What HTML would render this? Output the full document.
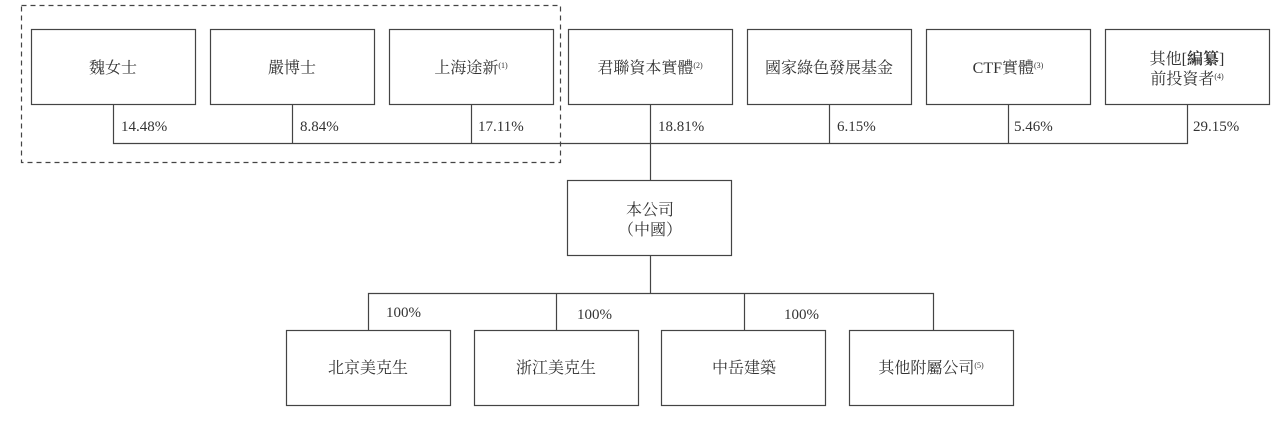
<!DOCTYPE html>
<html><head><meta charset="utf-8"><style>
body{margin:0;background:#fff;}
svg text{font-family:"Liberation Serif","Noto Serif CJK SC","Noto Sans CJK TC",serif;font-size:15px;fill:#333;}
svg text.c{font-size:16px;}
</style></head><body>
<svg width="1280" height="416" viewBox="0 0 1280 416" xmlns="http://www.w3.org/2000/svg">
<rect x="0" y="0" width="1280" height="416" fill="#fff"/>
<g fill="none" stroke="#444" stroke-width="1.2">
<rect x="21.5" y="5.5" width="539" height="157" stroke-dasharray="5,4"/>
<rect x="31.5" y="29.5" width="164" height="75"/>
<rect x="210.5" y="29.5" width="164" height="75"/>
<rect x="389.5" y="29.5" width="164" height="75"/>
<rect x="568.5" y="29.5" width="164" height="75"/>
<rect x="747.5" y="29.5" width="164" height="75"/>
<rect x="926.5" y="29.5" width="164" height="75"/>
<rect x="1105.5" y="29.5" width="164" height="75"/>
<path d="M113.5 104V143.5H1187.5V104M292.5 104V143M471.5 104V143M650.5 104V180M829.5 104V143M1008.5 104V143"/>
<rect x="567.5" y="180.5" width="164" height="75"/>
<path d="M650.5 255V293.5M368.5 330V293.5H933.5V330M556.5 293V330M744.5 293V330"/>
<rect x="286.5" y="330.5" width="164" height="75"/>
<rect x="474.5" y="330.5" width="164" height="75"/>
<rect x="661.5" y="330.5" width="164" height="75"/>
<rect x="849.5" y="330.5" width="164" height="75"/>
</g>
<g text-anchor="middle">
<text class="c" x="113" y="73">魏女士</text>
<text class="c" x="292" y="73">嚴博士</text>
<text class="c" x="471" y="73">上海途新<tspan font-size="8" dy="-5">(1)</tspan></text>
<text class="c" x="650" y="73">君聯資本實體<tspan font-size="8" dy="-5">(2)</tspan></text>
<text class="c" x="829" y="73">國家綠色發展基金</text>
<text class="c" x="1008" y="73">CTF實體<tspan font-size="8" dy="-5">(3)</tspan></text>
<text class="c" x="1187" y="64">其他[<tspan font-weight="bold">編纂</tspan>]</text>
<text class="c" x="1187" y="84">前投資者<tspan font-size="8" dy="-5">(4)</tspan></text>
<text class="c" x="650" y="215">本公司</text>
<text class="c" x="650" y="235">（中國）</text>
<text class="c" x="368" y="373">北京美克生</text>
<text class="c" x="556" y="373">浙江美克生</text>
<text class="c" x="744" y="373">中岳建築</text>
<text class="c" x="931" y="373">其他附屬公司<tspan font-size="8" dy="-5">(5)</tspan></text>
</g>
<text x="121" y="131">14.48%</text>
<text x="300" y="131">8.84%</text>
<text x="478" y="131">17.11%</text>
<text x="658" y="131">18.81%</text>
<text x="837" y="131">6.15%</text>
<text x="1014" y="131">5.46%</text>
<text x="1193" y="131">29.15%</text>
<text x="386" y="317">100%</text>
<text x="577" y="319">100%</text>
<text x="784" y="319">100%</text>
</svg>
</body></html>
